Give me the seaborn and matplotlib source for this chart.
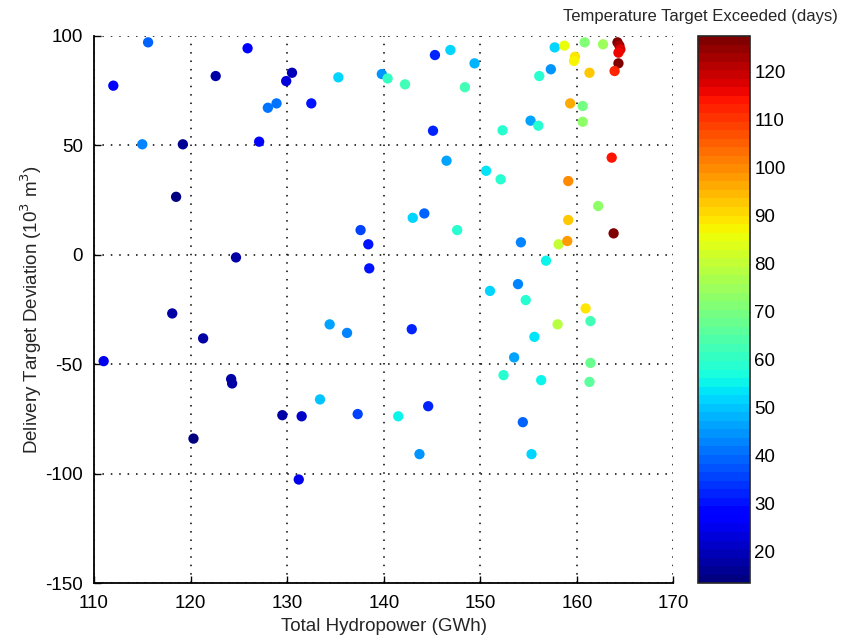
import matplotlib
matplotlib.use("Agg")
import matplotlib.pyplot as plt
import seaborn as sns
import numpy as np
import pandas as pd
from matplotlib.colors import Normalize
from matplotlib.cm import ScalarMappable

hydropower = [115.6, 112.0, 125.9, 122.6, 129.9, 130.5, 128.0, 128.9, 115.0, 119.2,
              127.1, 118.5, 132.5, 135.3, 139.8, 140.4, 142.2, 145.3, 146.9, 149.4,
              148.4, 145.1, 146.5, 143.0, 144.2, 157.7, 158.7, 160.8, 162.7, 164.2,
              164.4, 164.5, 164.3, 164.3, 163.9, 159.8, 159.7, 161.3, 157.3, 156.1,
              159.3, 160.6, 160.6, 155.2, 156.0, 152.3, 163.6, 150.6, 152.1, 159.1,
              162.2, 159.1, 124.7, 118.1, 121.3, 111.0, 124.2, 124.3, 129.5, 147.6,
              137.6, 138.4, 138.5, 134.4, 136.2, 142.9, 133.4, 131.5, 137.3, 141.5,
              144.6, 163.8, 154.2, 158.1, 159.0, 156.8, 153.9, 151.0, 154.7, 160.9,
              161.4, 158.0, 155.6, 153.5, 161.4, 152.4, 156.3, 161.3, 143.7, 154.4,
              155.3, 120.3, 131.2]
deviation = [97.1, 77.3, 94.4, 81.7, 79.4, 83.2, 67.2, 69.2, 50.5, 50.5,
             51.7, 26.5, 69.2, 81.1, 82.6, 80.6, 77.9, 91.3, 93.6, 87.5,
             76.6, 56.7, 43.0, 16.9, 18.9, 94.8, 95.6, 97.1, 96.2, 97.1,
             95.6, 93.9, 92.4, 87.5, 84.0, 90.5, 88.6, 83.2, 84.8, 81.7,
             69.2, 68.0, 60.8, 61.3, 59.0, 56.9, 44.4, 38.4, 34.5, 33.7,
             22.3, 15.9, -1.2, -26.8, -38.2, -48.6, -56.8, -58.8, -73.3, 11.3,
             11.3, 4.8, -6.2, -31.8, -35.7, -34.0, -66.1, -73.8, -72.8, -73.8,
             -69.2, 9.8, 5.7, 4.8, 6.3, -2.7, -13.4, -16.5, -20.7, -24.5,
             -30.3, -31.8, -37.5, -46.9, -49.4, -55.0, -57.3, -58.1, -91.1, -76.5,
             -91.1, -84.0, -102.7]
days_exceeded = [40, 26, 27, 17, 24, 20, 41, 41, 42, 16,
                 27, 15, 30, 52, 44, 60, 62, 32, 51, 48,
                 63, 32, 47, 51, 40, 51, 85, 71, 74, 127,
                 123, 117, 116, 126, 113, 90, 87, 93, 44, 59,
                 97, 70, 73, 47, 58, 58, 115, 54, 58, 100,
                 73, 93, 17, 17, 17, 25, 17, 17, 18, 58,
                 36, 30, 30, 47, 42, 32, 50, 22, 35, 56,
                 32, 126, 43, 80, 98, 56, 43, 52, 58, 89,
                 63, 78, 54, 46, 68, 58, 56, 66, 45, 40,
                 52, 15, 25]

x_ticks = [110, 120, 130, 140, 150, 160, 170]
y_ticks = [-150, -100, -50, 0, 50, 100]
cbar_ticks = [20, 30, 40, 50, 60, 70, 80, 90, 100, 110, 120]
cmin, cmax = 13.3, 127.5

sns.set_style("white")
plt.rcParams['font.family'] = ['Liberation Sans', 'DejaVu Sans']
plt.rcParams['axes.unicode_minus'] = False

df = pd.DataFrame({"hydro": hydropower, "dev": deviation, "days": days_exceeded})
cmap = plt.get_cmap('jet', 64)

W, H = 845, 643
fig = plt.figure(figsize=(W / 100, H / 100), dpi=100)
ax = fig.add_axes([94 / W, 1 - 583 / H, (673.5 - 94) / W, (583 - 36) / H])

sns.scatterplot(data=df, x="hydro", y="dev", hue="days", palette=cmap,
                hue_norm=(cmin, cmax), s=55, marker='o', edgecolor='none',
                legend=False, ax=ax, zorder=3)

ax.set_xlim(110, 170)
ax.set_ylim(-150, 100)
ax.set_xticks(x_ticks)
ax.set_yticks(y_ticks)
ax.grid(True, linestyle=(0, (1, 4.5)), color='black', linewidth=1.1)
for s in ['top', 'right']:
    ax.spines[s].set_visible(False)
for s in ['left', 'bottom']:
    ax.spines[s].set_color('black')
    ax.spines[s].set_linewidth(1.3)
ax.tick_params(direction='in', length=5, width=1, labelsize=13.5, colors='black',
               left=True, bottom=True)
ax.tick_params(axis='x', pad=9)
ax.tick_params(axis='y', pad=8)
ax.set_xlabel("Total Hydropower (GWh)", fontsize=13.5)
ax.set_ylabel("Delivery Target Deviation (10$^3$ m$^3$)", fontsize=13.5)
ax.xaxis.labelpad = 4
ax.yaxis.labelpad = 1

cax = fig.add_axes([698 / W, 1 - 583.3 / H, 52 / W, (583.3 - 36) / H])
sm = ScalarMappable(norm=Normalize(cmin, cmax), cmap=cmap)
cb = fig.colorbar(sm, cax=cax, ticks=cbar_ticks)
cb.outline.set_linewidth(1.2)
cax.tick_params(direction='in', length=5, left=True, right=True,
                labelsize=13.5, colors='black', pad=3)
fig.text(838 / W, 1 - 17 / H, "Temperature Target Exceeded (days)",
         ha='right', va='center', fontsize=12)

fig.savefig("out.png", dpi=100)
